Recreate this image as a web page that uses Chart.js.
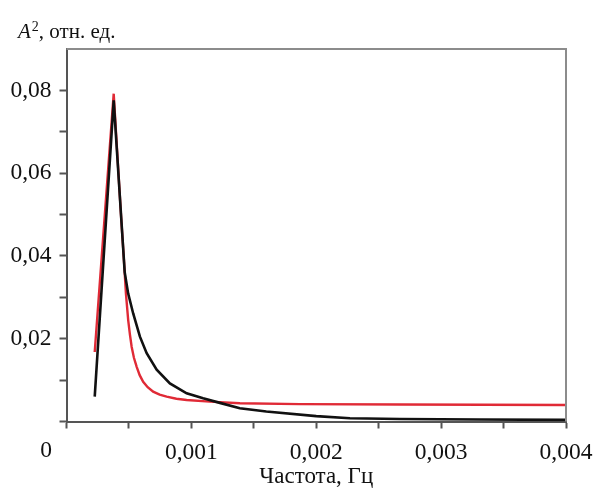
<!DOCTYPE html>
<html>
<head>
<meta charset="utf-8">
<script src="https://cdn.jsdelivr.net/npm/chart.js@4/dist/chart.umd.min.js"></script>
<style>
  body { margin: 0; background: #fff; }
  #wrap { width: 593px; height: 488px; }
</style>
</head>
<body>
<div id="wrap"><canvas id="spectrumChart" width="593" height="488"></canvas></div>
<script>
// measured spectrum (black)
var freqBlack = [0.000226, 0.000378, 0.000466, 0.000494, 0.000534, 0.000588, 0.000642, 0.000722, 0.000828, 0.000962, 0.001094, 0.001228, 0.001388, 0.00160, 0.00200, 0.00227, 0.00267, 0.00331, 0.00400];
var ampBlack = [0.0060, 0.0776, 0.0361, 0.0309, 0.0261, 0.0205, 0.0165, 0.0125, 0.0092, 0.0068, 0.0056, 0.0045, 0.0032, 0.0024, 0.0013, 0.0008, 0.0006, 0.0005, 0.0004];

// model curve (red)
var freqRed = [0.000226, 0.000378, 0.000406, 0.000438, 0.000460, 0.000476, 0.000494, 0.000508, 0.000522, 0.000540, 0.000562, 0.000586, 0.000614, 0.000650, 0.000694, 0.000746, 0.000802, 0.000880, 0.000962, 0.001148, 0.001388, 0.00187, 0.00267, 0.00400];
var ampRed = [0.0168, 0.0792, 0.0651, 0.0491, 0.0390, 0.0309, 0.0245, 0.0210, 0.0180, 0.0154, 0.0132, 0.0112, 0.0096, 0.0083, 0.0072, 0.0065, 0.0060, 0.0055, 0.0052, 0.0048, 0.0044, 0.0042, 0.0041, 0.0040];

var xTickLabels = ["0,001", "0,002", "0,003", "0,004"];
var yTickLabels = ["0,02", "0,04", "0,06", "0,08"];
var xTitle = "Частота, Гц";

var serif = '"Liberation Serif", "Times New Roman", serif';

function toPoints(xs, ys) {
  return xs.map(function (x, i) { return { x: x, y: ys[i] }; });
}

// top/right frame, origin "0" and the y axis caption
var extras = {
  id: "extras",
  afterDraw: function (chart) {
    var ctx = chart.ctx;
    var a = chart.chartArea;
    ctx.save();
    ctx.strokeStyle = "#8c8c8c";
    ctx.lineWidth = 2;
    ctx.beginPath();
    ctx.moveTo(a.left, a.top);
    ctx.lineTo(a.right, a.top);
    ctx.lineTo(a.right, a.bottom);
    ctx.stroke();

    ctx.fillStyle = "#111";
    ctx.font = "23.5px " + serif;
    ctx.textAlign = "center";
    ctx.textBaseline = "middle";
    ctx.fillText("0", 46, 451);

    // A^2, отн. ед.
    ctx.textAlign = "left";
    ctx.textBaseline = "alphabetic";
    ctx.font = "italic 21px " + serif;
    ctx.fillText("A", 18, 38);
    var w = ctx.measureText("A").width;
    ctx.font = "14px " + serif;
    ctx.fillText("2", 18 + w + 1, 31);
    var w2 = ctx.measureText("2").width;
    ctx.font = "21px " + serif;
    ctx.fillText(", отн. ед.", 18 + w + 1 + w2, 38);
    ctx.restore();
  }
};

var ctx = document.getElementById("spectrumChart").getContext("2d");
var spectrumChart = new Chart(ctx, {
  type: "line",
  data: {
    datasets: [
      {
        data: toPoints(freqBlack, ampBlack),
        borderColor: "#111111",
        borderWidth: 2.6,
        pointRadius: 0,
        tension: 0
      },
      {
        data: toPoints(freqRed, ampRed),
        borderColor: "#e02a36",
        borderWidth: 2.4,
        pointRadius: 0,
        tension: 0
      }
    ]
  },
  options: {
    responsive: false,
    animation: false,
    layout: { padding: { top: 49, right: 27, left: 0, bottom: 0 } },
    plugins: { legend: { display: false }, tooltip: { enabled: false } },
    scales: {
      x: {
        type: "linear",
        min: 0,
        max: 0.004,
        afterFit: function (scale) {
          scale.height = 66.5;
          scale.paddingLeft = 0;
          scale.paddingRight = 0;
        },
        border: { color: "#555", width: 2 },
        grid: {
          drawOnChartArea: false,
          tickLength: 7,
          tickWidth: 2,
          color: "#555"
        },
        ticks: {
          stepSize: 0.0005,
          autoSkip: false,
          maxRotation: 0,
          padding: 10,
          color: "#111",
          font: { family: serif, size: 23.5 },
          callback: function (value) {
            var n = Math.round(value / 0.0005);
            if (n > 0 && n % 2 === 0) return xTickLabels[n / 2 - 1];
            return "";
          }
        },
        title: {
          display: true,
          text: xTitle,
          color: "#111",
          font: { family: serif, size: 23, lineHeight: 1 },
          padding: { top: 0, bottom: 0 }
        }
      },
      y: {
        min: 0,
        max: 0.09,
        afterFit: function (scale) {
          scale.width = 66.5;
          scale.paddingTop = 0;
          scale.paddingBottom = 0;
        },
        border: { color: "#555", width: 2 },
        grid: {
          drawOnChartArea: false,
          tickLength: 7,
          tickWidth: 2,
          color: function (c) {
            return c.tick && Math.round(c.tick.value * 100) === 9 ? "rgba(0,0,0,0)" : "#555";
          }
        },
        ticks: {
          stepSize: 0.01,
          autoSkip: false,
          padding: 8,
          color: "#111",
          font: { family: serif, size: 23.5 },
          callback: function (value) {
            var n = Math.round(value * 100);
            if (n > 0 && n % 2 === 0 && n <= 8) return yTickLabels[n / 2 - 1];
            return "";
          }
        }
      }
    }
  },
  plugins: [extras]
});
</script>
</body>
</html>
